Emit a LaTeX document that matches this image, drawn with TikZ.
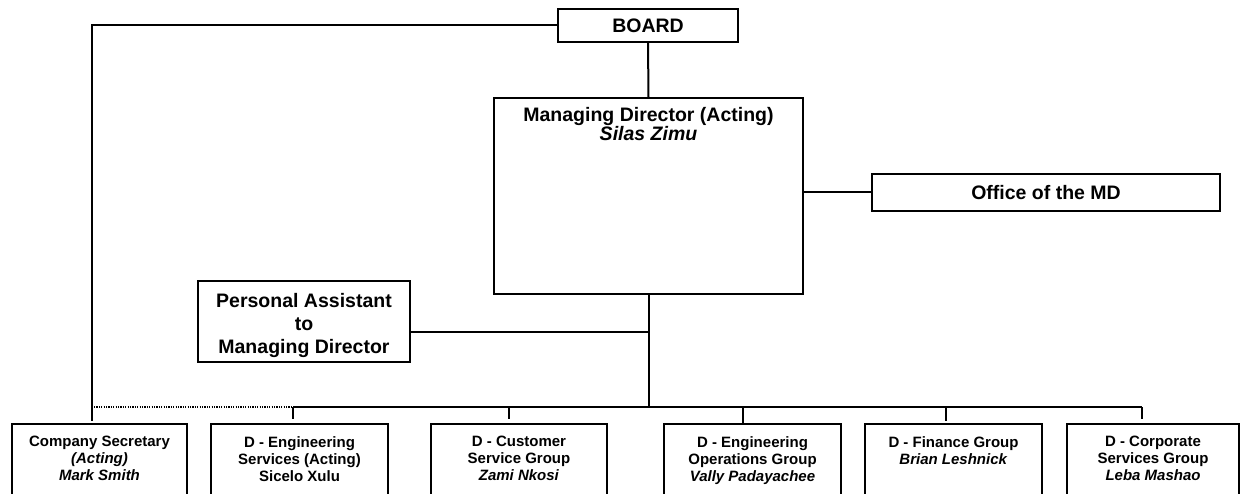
\documentclass[tikz,border=0pt]{standalone}
\usepackage{fontspec}
\setmainfont{Liberation Sans}
\begin{document}
\begin{tikzpicture}[x=1pt,y=1pt,
  box/.style={draw, line width=1.9pt, inner sep=0pt, outer sep=0pt, anchor=north west},
  toptext/.style={font=\bfseries\fontsize{19.5}{23}\selectfont, align=center, inner sep=0pt},
  bottext/.style={font=\bfseries\fontsize{15}{17}\selectfont, align=center, inner sep=0pt, anchor=north},
  link/.style={line width=2pt},
  dotlink/.style={line width=1.3pt, dash pattern=on 1.2pt off 1.2pt},
  gap/.style={shorten >=5pt}]
\useasboundingbox (0,0) rectangle (1241,-494);
\clip (0,0) rectangle (1241,-494);
\fill[white] (0,0) rectangle (1241,-494);

% top level boxes
\node[box, minimum width=180, minimum height=33] (board) at (558,-9) {};
\node[toptext] (boardt) at (board.center) {BOARD};
\node[box, minimum width=309, minimum height=196] (md) at (494,-98) {};
\node[toptext, anchor=north, font=\bfseries\fontsize{19.5}{19}\selectfont] (mdt) at ([yshift=-9]md.north)
  {Managing Director (Acting)\\\textit{Silas Zimu}};
\node[box, minimum width=348, minimum height=37] (office) at (872,-174) {};
\node[toptext] (officet) at (office.center) {Office of the MD};
\node[box, minimum width=212, minimum height=81] (pa) at (198,-281) {};
\node[toptext, anchor=north] (pat) at ([yshift=-12]pa.north) {Personal Assistant\\to\\Managing Director};

% bottom boxes
\node[box, minimum width=175, minimum height=91] (cs) at (12,-424) {};
\node[bottext] (cst) at ([yshift=-12]cs.north) {Company Secretary\\\textit{(Acting)}\\\textit{Mark Smith}};
\node[box, minimum width=177, minimum height=91] (es) at (211,-424) {};
\node[bottext] (est) at ([yshift=-12]es.north) {D - Engineering\\Services (Acting)\\Sicelo Xulu};
\node[box, minimum width=176, minimum height=91] (cu) at (431,-424) {};
\node[bottext] (cut) at ([yshift=-12]cu.north) {D - Customer\\Service Group\\\textit{Zami Nkosi}};
\node[box, minimum width=177, minimum height=91] (eo) at (664,-424) {};
\node[bottext] (eot) at ([yshift=-12]eo.north) {D - Engineering\\Operations Group\\\textit{Vally Padayachee}};
\node[box, minimum width=177, minimum height=91] (fi) at (865,-424) {};
\node[bottext] (fit) at ([yshift=-12]fi.north) {D - Finance Group\\\textit{Brian Leshnick}};
\node[box, minimum width=172, minimum height=91] (co) at (1067,-424) {};
\node[bottext] (cot) at ([yshift=-12]co.north) {D - Corporate\\Services Group\\\textit{Leba Mashao}};

% junction coordinates
\coordinate (csj) at (92,-421);
\coordinate (bus) at (648.5,-407);
\coordinate (paj) at (648.5,-332);
\coordinate (d1) at (293,-407);
\coordinate (d2) at (509,-407);
\coordinate (d3) at (743,-407);
\coordinate (d4) at (946,-407);
\coordinate (d5) at (1142,-407);
\coordinate (dotL) at (94,-407);
\coordinate (dotR) at (307,-407);

% connectors
\draw[link] (board.west) -| (csj);
\draw[link] (board.south) -- (md.north);
\draw[link] (md.east |- office.west) -- (office.west);
\draw[link] (md.south) -- (bus);
\draw[link] (pa.east |- paj) -- (paj);
\draw[link] (d1) -- (d5);
\draw[dotlink] (dotL) -- (dotR);
\draw[link, gap] (d1) -- (d1 |- es.north);
\draw[link, gap] (d2) -- (d2 |- cu.north);
\draw[link] (d3) -- (d3 |- eo.north);
\draw[link, shorten >=3pt] (d4) -- (d4 |- fi.north);
\draw[link, gap] (d5) -- (d5 |- co.north);
\end{tikzpicture}
\end{document}
